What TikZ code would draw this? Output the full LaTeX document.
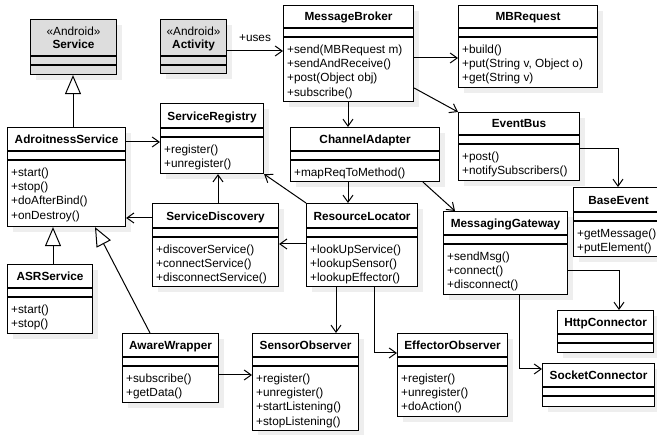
\documentclass[tikz,border=0pt]{standalone}
\usepackage{fontspec}
\setmainfont{Liberation Sans}
\usetikzlibrary{calc,arrows.meta,backgrounds}

\definecolor{androidgray}{RGB}{221,221,221}
\definecolor{shadowgray}{RGB}{238,238,238}

\tikzset{
  classbox/.style={draw, line width=1.1pt, fill=white, inner sep=0pt, anchor=north west},
  classname/.style={font=\bfseries\fontsize{11.8}{14.3}\selectfont, anchor=base, inner sep=0pt},
  stereo/.style={font=\fontsize{11.8}{14.3}\selectfont, anchor=base, inner sep=0pt},
  members/.style={font=\fontsize{11.8}{14.3}\selectfont, align=left, anchor=north west, inner sep=0pt},
  nav/.style={line width=1pt, -{Straight Barb[length=7pt,width=10pt]}},
  gen/.style={line width=1pt, -{Triangle[open,length=19pt,width=16pt,fill=white]}},
}

% [fill]{name}{x}{y}{width}{height}{title height}{title}{members}
\newcommand{\umlclass}[9][white]{%
  \begin{scope}[on background layer]
    \fill[shadowgray] (#3+6,#4+6) rectangle ++(#5,#6);
  \end{scope}
  \node[classbox, fill=#1, minimum width=#5pt, minimum height=#6pt] (#2) at (#3,#4) {};
  \draw[line width=1.1pt] ($(#2.north west)+(0,#7)$) -- ++(#5,0) ++(-#5,9) -- ++(#5,0);
  \node[classname] (#2-t) at ($(#2.north)+(0,#7-7.6)$) {#8};
  \node[members] (#2-m) at ($(#2.north west)+(4,#7+16.5)$) {#9};
}

\begin{document}
\begin{tikzpicture}[x=1pt,y=-1pt]
    \useasboundingbox (0,0) rectangle (657,435);

    % android classes
    \umlclass[androidgray]{svc}{30}{19}{86}{55}{37}{Service}{}
    \node[stereo] at ($(svc-t.base)+(0,-12.8)$) {«Android»};
    \umlclass[androidgray]{act}{160}{19}{66}{54}{37}{Activity}{}
    \node[stereo] at ($(act-t.base)+(0,-12.8)$) {«Android»};

    % service side
    \umlclass{ads}{7}{127}{118}{99}{24}{AdroitnessService}{+start()\\+stop()\\+doAfterBind()\\+onDestroy()}
    \umlclass{asr}{7}{264}{85}{69}{24}{ASRService}{+start()\\+stop()}
    \umlclass{aw}{122}{333}{96}{69}{24}{AwareWrapper}{+subscribe()\\+getData()}
    \umlclass{sreg}{160}{103}{103}{70}{25}{ServiceRegistry}{+register()\\+unregister()}
    \umlclass{sd}{152}{203}{126}{83}{25}{ServiceDiscovery}{+discoverService()\\+connectService()\\+disconnectService()}

    % broker side
    \umlclass{mb}{283}{5}{130}{96}{23}{MessageBroker}{+send(MBRequest m)\\+sendAndReceive()\\+post(Object obj)\\+subscribe()}
    \umlclass{mbr}{458}{5}{139}{82}{23}{MBRequest}{+build()\\+put(String v, Object o)\\+get(String v)}
    \umlclass{ca}{290}{127}{149}{54}{24}{ChannelAdapter}{+mapReqToMethod()}
    \umlclass{eb}{458}{112}{121}{68}{23}{EventBus}{+post()\\+notifySubscribers()}
    \umlclass{be}{573}{187}{90}{69}{25}{BaseEvent}{+getMessage()\\+putElement()}
    \umlclass{rl}{306}{203}{111}{83}{25}{ResourceLocator}{+lookUpService()\\+lookupSensor()\\+lookupEffector()}
    \umlclass{mg}{443}{211}{124}{83}{24}{MessagingGateway}{+sendMsg()\\+connect()\\+disconnect()}
    \umlclass{so}{252}{333}{106}{97}{24}{SensorObserver}{+register()\\+unregister()\\+startListening()\\+stopListening()}
    \umlclass{eo}{397}{333}{110}{83}{24}{EffectorObserver}{+register()\\+unregister()\\+doAction()}
    \umlclass{http}{557}{310}{96}{42}{24}{HttpConnector}{}
    \umlclass{sock}{542}{363}{112}{43}{24}{SocketConnector}{}

    % generalizations
    \draw[gen] (asr.north -| 53,0) -- (ads.south -| 53,0);
    \draw[gen] (aw.north -| 150,0) -- (ads.south -| 95,0);
    \draw[gen] (ads.north -| 73,0) -- (svc.south -| 73,0);

    % associations
    \draw[nav] (ads.east |- 0,142) -- (sreg.west |- 0,142);
    \draw[nav] (sd.west |- 0,218) -- (ads.east |- 0,218);
    \draw[nav] (sd.north -| 218,0) -- (sreg.south -| 218,0);
    \draw[nav] (act.east |- 0,51) -- node[stereo, above=9pt] {+uses} (mb.west |- 0,51);
    \draw[nav] (mb.east |- 0,58) -- (mbr.west |- 0,58);
    \draw[nav] (mb.east |- 0,88) -- (eb.north west);
    \draw[nav] (mb.south -| 348,0) -- (ca.north -| 348,0);
    \draw[nav] (ca.south -| 348,0) -- (rl.north -| 348,0);
    \draw[nav] (ca.south -| 423,0) -- (mg.north -| 455,0);
    \draw[nav] (rl.north west) -- (sreg.south east);
    \draw[nav] (rl.west |- 0,244) -- (sd.east |- 0,244);
    \draw[nav] (rl.south -| 336,0) -- (so.north -| 336,0);
    \draw[nav] (rl.south -| 374,0) |- (eo.west |- 0,353);
    \draw[nav] (aw.east |- 0,375) -- (so.west |- 0,375);
    \draw[nav] (eb.east |- 0,149) -| (be.north -| 618,0);
    \draw[nav] (mg.east |- 0,271) -| (http.north -| 619,0);
    \draw[nav] (mg.south -| 519,0) |- (sock.west |- 0,369);

\end{tikzpicture}
\end{document}
